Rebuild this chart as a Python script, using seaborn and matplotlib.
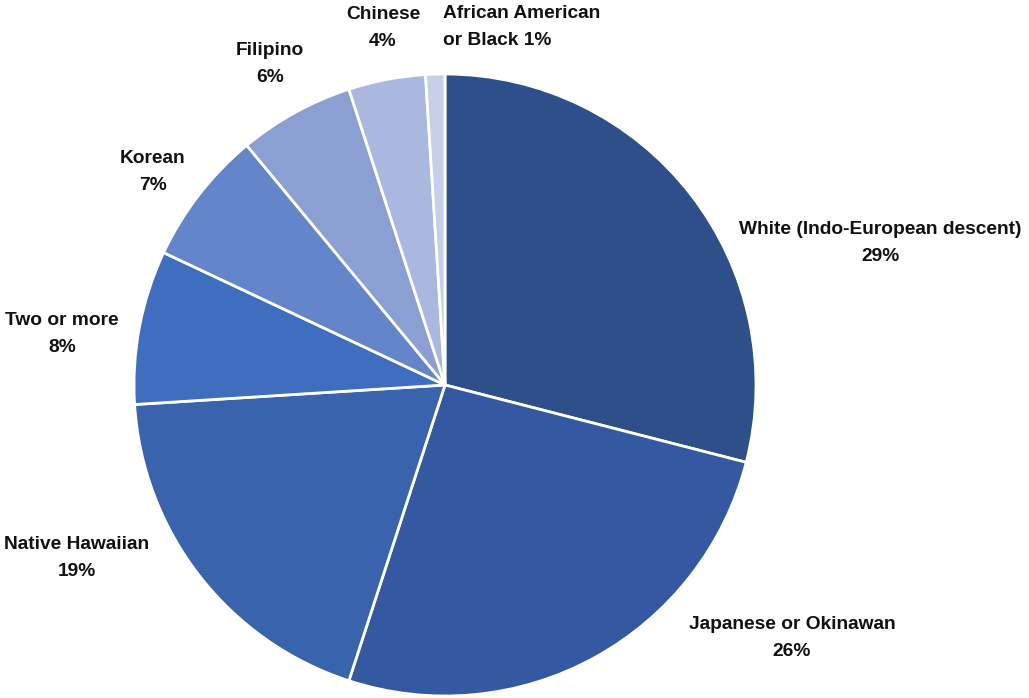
import matplotlib
matplotlib.use("Agg")
import matplotlib.pyplot as plt
import seaborn as sns
from matplotlib import font_manager

sns.set_theme(style="white")

fams = {f.name for f in font_manager.fontManager.ttflist}
fam = "Liberation Sans Narrow" if "Liberation Sans Narrow" in fams else "Liberation Sans"
plt.rcParams['font.family'] = [fam, 'DejaVu Sans']
fsize = 16 if fam == "Liberation Sans Narrow" else 13.8

categories = ["White (Indo-European descent)", "Japanese or Okinawan", "Native Hawaiian",
              "Two or more", "Korean", "Filipino", "Chinese", "African American\nor Black"]
values = [29, 26, 19, 8, 7, 6, 4, 1]
colors = ["#2E4F8A", "#3459A2", "#3A63AD", "#3F6EBF", "#6585CA", "#8B9FD3", "#AAB7DE", "#C6CEE9"]

W, H = 1029, 698
fig = plt.figure(figsize=(W / 100, H / 100), dpi=100)
ax = fig.add_axes([0, 0, 1, 1])
cx, cy, r = 445, H - 385, 311
ax.pie(values, colors=colors, startangle=90, counterclock=False, center=(cx, cy), radius=r,
       wedgeprops=dict(edgecolor="white", linewidth=2))
ax.set_xlim(0, W)
ax.set_ylim(0, H)
ax.set_aspect("equal")
ax.axis("off")

# label positions (pixel coords, y from top), alignment
label_pos = [(880, 243, "center"), (792, 638, "center"), (77, 558, "center"), (62, 334, "center"),
             (153, 172, "center"), (270, 64, "center"), (383, 28, "center"), (443, 27, "left")]
for cat, v, (x, y, ha) in zip(categories, values, label_pos):
    if cat.startswith("African"):
        txt = f"{cat} {v}%"
    else:
        txt = f"{cat}\n{v}%"
    ax.text(x, H - y, txt, ha=ha, va="center", fontsize=fsize, fontweight="bold",
            color="#111111", linespacing=1.75, multialignment=ha)

fig.savefig("out.png", dpi=100)
